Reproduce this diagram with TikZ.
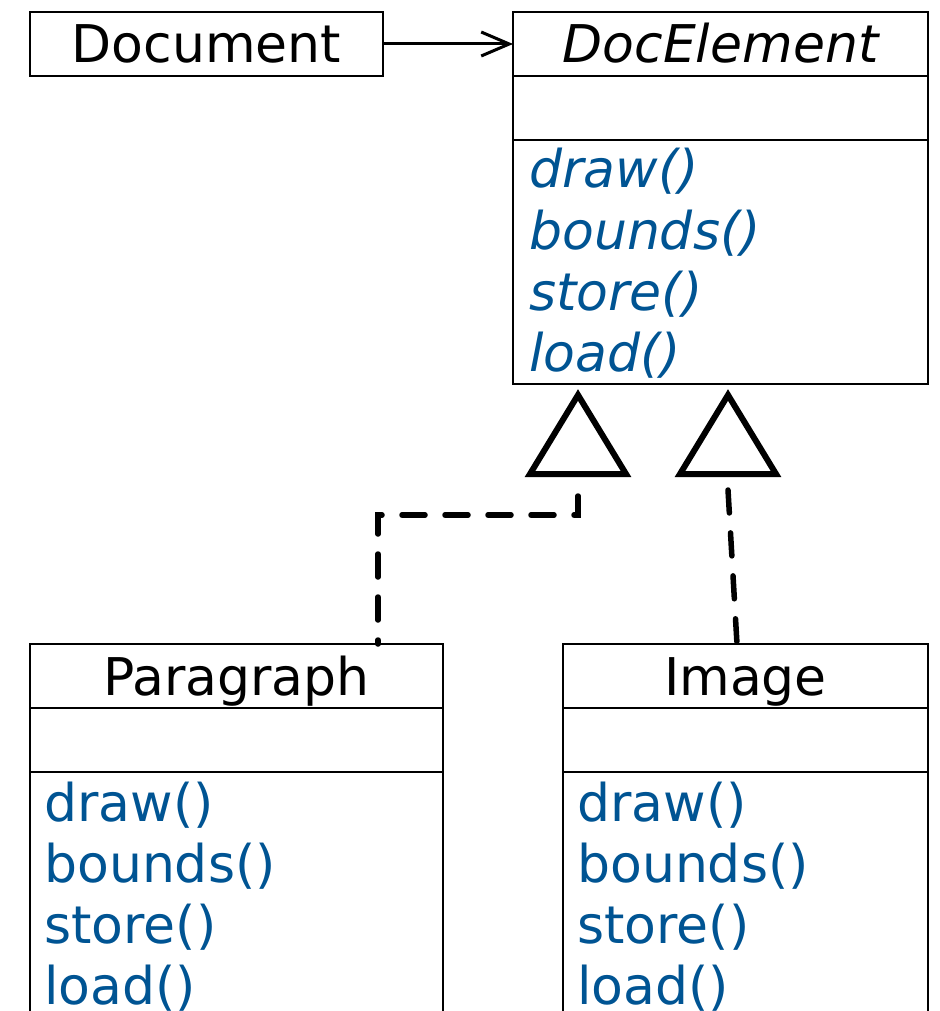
\documentclass[tikz,border=0pt]{standalone}
\usepackage{fontspec}
\setmainfont{DejaVu Sans}
\usetikzlibrary{positioning,arrows.meta,calc}
\definecolor{opblue}{RGB}{0,84,147}

\begin{document}
\begin{tikzpicture}[x=1pt,y=-1pt,
  every node/.style={font=\fontsize{52}{61}\selectfont},
  cls/.style={draw,line width=2.8pt,minimum height=64pt,inner sep=0pt,outer sep=0pt,
    text height=38pt,text depth=0pt},
  op/.style={anchor=base west,inner sep=0pt,text=opblue},
  gen/.style={draw,line width=6pt,line join=miter},
  impl/.style={line width=5.5pt,dash pattern=on 23pt off 20pt,line cap=round},
  assoc/.style={line width=3pt,-{Straight Barb[length=28pt,width=24pt]}}]
\useasboundingbox (0,0) rectangle (939,1011);
\clip (0,0) rectangle (939,1011);

% classes
\node[cls,minimum width=353pt,anchor=north west] (doc) at (30,12) {Document};
\node[cls,minimum width=415pt,anchor=north west,
  font=\fontsize{52}{61}\selectfont\itshape] (del) at (513,12) {DocElement};
\node[cls,minimum width=415pt,below=0pt of del] (delA) {};
\node[cls,minimum width=415pt,minimum height=244pt,below=0pt of delA] (delM) {};

\node[cls,minimum width=413pt,anchor=north west] (para) at (30,644) {Paragraph};
\node[cls,minimum width=413pt,below=0pt of para] (paraA) {};
\node[cls,minimum width=413pt,minimum height=300pt,below=0pt of paraA] (paraM) {};

\node[cls,minimum width=365pt,anchor=north west] (img) at (563,644) {Image};
\node[cls,minimum width=365pt,below=0pt of img] (imgA) {};
\node[cls,minimum width=365pt,minimum height=300pt,below=0pt of imgA] (imgM) {};

% operations
\foreach \m [count=\i from 0] in {draw(),bounds(),store(),load()} {
  \node[op,font=\fontsize{52}{61}\selectfont\itshape] (delop\i) at (529,188+61*\i) {\m};
  \node[op] (paraop\i) at (44,821+61*\i) {\m};
  \node[op] (imgop\i) at (577,821+61*\i) {\m};
}

% association
\draw[assoc] (doc) -- (del);

% generalisation
\coordinate (tP) at (578,395);
\coordinate (tI) at (728,395);
\draw[gen] (tP) -- ++(48,79) -- ++(-96,0) -- cycle;
\draw[gen] (tI) -- ++(48,79) -- ++(-96,0) -- cycle;
\coordinate (gP) at (578,496);
\coordinate (pP) at (378,644);
\coordinate (gI) at (728,490);
\coordinate (iI) at (737,644);
\draw[impl] (gP) -- ++(0,19) -| (pP);
\draw[impl] (gI) -- (iI);
\end{tikzpicture}
\end{document}
